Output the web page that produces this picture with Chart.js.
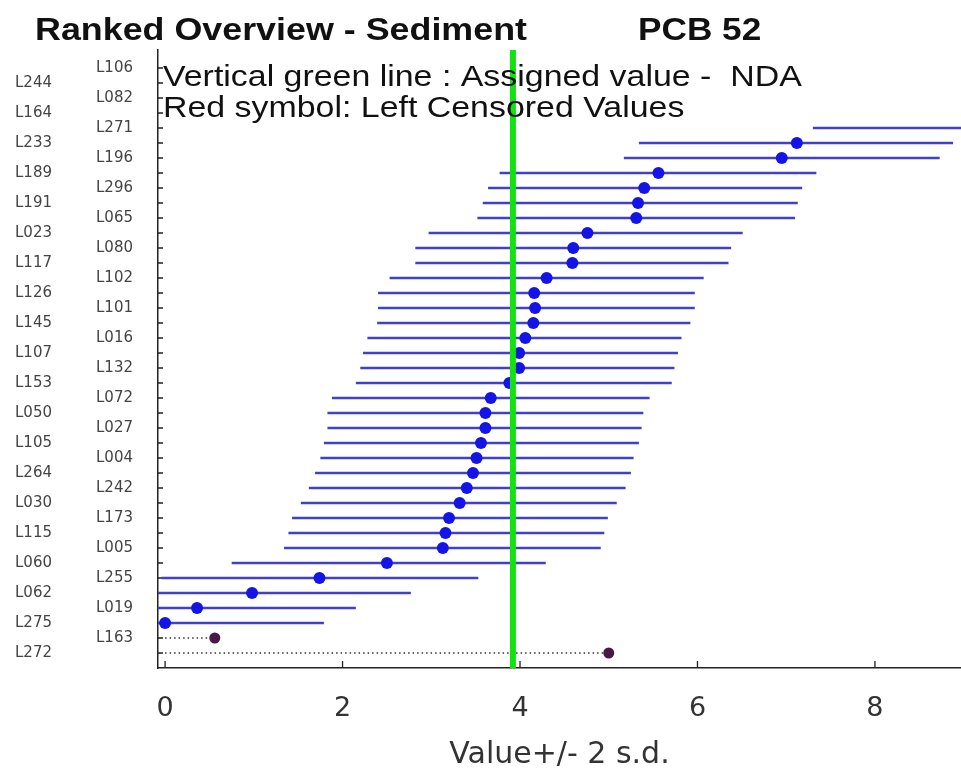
<!DOCTYPE html>
<html>
<head>
<meta charset="utf-8">
<script src="https://cdn.jsdelivr.net/npm/chart.js@4.4.1/dist/chart.umd.min.js"></script>
<style>
  html, body { margin: 0; padding: 0; background: #ffffff; }
  #wrap { width: 961px; height: 775px; }
</style>
</head>
<body>
<div id="wrap"><canvas id="c" width="961" height="775"></canvas></div>
<script>
// ---- data (top to bottom rows) ----
const rowLabels = ['L106','L244','L082','L164','L271','L233','L196','L189','L296','L191',
  'L065','L023','L080','L117','L102','L126','L101','L145','L016','L107',
  'L132','L153','L072','L050','L027','L105','L004','L264','L242','L030',
  'L173','L115','L005','L060','L255','L062','L019','L275','L163','L272'];
const values = [17.5, 14.0, 12.5, 11.2, 9.10, 7.12, 6.95, 5.56, 5.40, 5.33,
  5.31, 4.76, 4.60, 4.59, 4.30, 4.16, 4.17, 4.15, 4.06, 3.99,
  3.99, 3.88, 3.67, 3.61, 3.61, 3.56, 3.51, 3.47, 3.40, 3.32,
  3.20, 3.16, 3.13, 2.50, 1.74, 0.98, 0.36, 0.00, 0.56, 5.00];
const lowerLimits = [15.7, 12.2, 10.7, 9.4, 7.30, 5.34, 5.17, 3.77, 3.64, 3.58,
  3.52, 2.97, 2.82, 2.82, 2.53, 2.40, 2.40, 2.39, 2.28, 2.23,
  2.20, 2.15, 1.88, 1.83, 1.83, 1.79, 1.75, 1.69, 1.62, 1.53,
  1.43, 1.39, 1.34, 0.75, -0.04, -0.80, -1.42, -1.78, null, null];
const upperLimits = [19.3, 15.8, 14.3, 13.0, 10.9, 8.88, 8.73, 7.34, 7.18, 7.13,
  7.10, 6.51, 6.38, 6.35, 6.07, 5.97, 5.97, 5.92, 5.82, 5.78,
  5.74, 5.71, 5.46, 5.39, 5.37, 5.34, 5.28, 5.25, 5.19, 5.09,
  4.99, 4.95, 4.91, 4.29, 3.53, 2.77, 2.15, 1.79, null, null];
const censored = ['L163', 'L272'];
const assignedValue = 3.92;
const xTicks = [0, 2, 4, 6, 8];

// ---- derived datasets ----
const FONT = '"Liberation Sans", Arial, Helvetica, sans-serif';
const AXFONT = '"DejaVu Sans", Verdana, sans-serif';
const GAP = {x: null, y: null};
const barPts = [], dotPts = [], censPts = [], censLine = [];
rowLabels.forEach((lab, i) => {
  if (censored.includes(lab)) {
    censPts.push({x: values[i], y: i});
    censLine.push({x: 0, y: i}, {x: values[i], y: i}, {...GAP});
  } else {
    dotPts.push({x: values[i], y: i});
    barPts.push({x: lowerLimits[i], y: i}, {x: upperLimits[i], y: i}, {...GAP});
  }
});

function stretchedText(ctx, text, x, y, sx) {
  ctx.save();
  ctx.translate(x, y);
  ctx.scale(sx, 1);
  ctx.fillText(text, 0, 0);
  ctx.restore();
}

const decor = {
  id: 'decor',
  beforeDatasetsDraw(chart) {
    const {ctx, chartArea: a, scales} = chart;
    ctx.save();
    ctx.strokeStyle = '#222';
    ctx.lineWidth = 1.3;
    ctx.beginPath();
    rowLabels.forEach((_, i) => {
      const py = scales.y.getPixelForValue(i);
      ctx.moveTo(a.left, py); ctx.lineTo(a.left + 5, py);
    });
    xTicks.forEach(v => {
      const px = scales.x.getPixelForValue(v);
      ctx.moveTo(px, a.bottom); ctx.lineTo(px, a.bottom - 7);
    });
    ctx.stroke();
    ctx.restore();
  },
  afterDraw(chart) {
    const {ctx, chartArea: a} = chart;
    ctx.save();
    ctx.fillStyle = '#111';
    ctx.textBaseline = 'alphabetic';
    ctx.textAlign = 'left';
    ctx.font = 'bold 32px ' + FONT;
    stretchedText(ctx, 'Ranked Overview - Sediment', 35, 40, 1.12);
    stretchedText(ctx, 'PCB 52', 638, 40, 1.1);
    ctx.font = '30px ' + FONT;
    stretchedText(ctx, 'Vertical green line : Assigned value -  NDA', a.left + 5, a.top + 36, 1.13);
    stretchedText(ctx, 'Red symbol: Left Censored Values', a.left + 5, a.top + 67, 1.13);
    ctx.restore();
  }
};

new Chart(document.getElementById('c'), {
  type: 'scatter',
  data: {
    datasets: [
      { type: 'line', label: 'Assigned value', order: 0,
        data: [{x: assignedValue, y: -1.2}, {x: assignedValue, y: 40}],
        borderColor: '#12e212', borderWidth: 6, pointRadius: 0, showLine: true },
      { label: 'Values', order: 1, data: dotPts,
        backgroundColor: '#1414e6', borderColor: '#1414e6', pointRadius: 6, borderWidth: 0 },
      { label: 'Censored', order: 1, data: censPts,
        backgroundColor: '#4a1846', borderColor: '#4a1846', pointRadius: 5.5, borderWidth: 0 },
      { type: 'line', label: 'Censored range', order: 2, data: censLine, spanGaps: false,
        borderColor: '#333', borderWidth: 1.3, borderDash: [1.5, 3], pointRadius: 0, showLine: true },
      { type: 'line', label: '+/- 2 s.d.', order: 3, data: barPts, spanGaps: false,
        borderColor: '#4141c8', borderWidth: 2.5, pointRadius: 0, showLine: true }
    ]
  },
  options: {
    responsive: false,
    animation: false,
    devicePixelRatio: 1,
    layout: { autoPadding: false, padding: { top: 50, right: 0, left: 0, bottom: 0 } },
    plugins: { legend: { display: false }, tooltip: { enabled: false }, title: { display: false } },
    scales: {
      x: {
        type: 'linear', position: 'bottom', min: -0.08, max: 8.97,
        afterBuildTicks: s => { s.ticks = xTicks.map(v => ({value: v})); },
        grid: { display: false, drawTicks: false },
        border: { display: true, color: '#222', width: 1.5 },
        ticks: { font: { size: 27, family: AXFONT }, color: '#333', padding: 25 },
        title: { display: true, text: 'Value+/- 2 s.d.', font: { size: 30, family: AXFONT }, color: '#333', padding: { top: 4, bottom: 2 } },
        afterFit: s => { s.height = 107; s.paddingLeft = 0; s.paddingRight = 0; }
      },
      y: {
        type: 'linear', position: 'left', reverse: true, min: -1.2, max: 40, weight: 0,
        afterBuildTicks: s => { s.ticks = rowLabels.map((_, i) => ({value: i})); },
        grid: { display: false, drawTicks: false },
        border: { display: true, color: '#222', width: 1.5 },
        ticks: { autoSkip: false, font: { size: 15, family: AXFONT }, color: '#444', padding: 25,
          callback: v => (v % 2 === 0 ? rowLabels[v] : '') },
        afterFit: s => { s.width = 88; }
      },
      y2: {
        type: 'linear', position: 'left', reverse: true, min: -1.2, max: 40, weight: 1,
        afterBuildTicks: s => { s.ticks = rowLabels.map((_, i) => ({value: i})); },
        grid: { display: false, drawTicks: false },
        border: { display: false },
        ticks: { autoSkip: false, font: { size: 15, family: AXFONT }, color: '#444', padding: 18,
          callback: v => (v % 2 === 1 ? rowLabels[v] : '') },
        afterFit: s => { s.width = 70; }
      }
    }
  },
  plugins: [decor]
});
</script>
</body>
</html>
